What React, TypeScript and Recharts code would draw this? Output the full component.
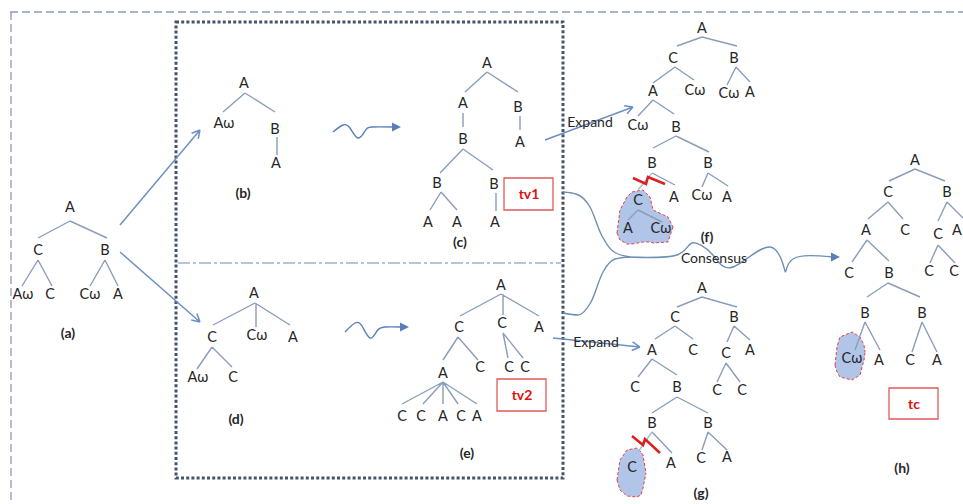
import React from 'react';
import { ComposedChart, XAxis, YAxis, Line, Scatter, Area, ReferenceLine, ReferenceArea } from 'recharts';

type Seg = [number, number, number, number];
type Node = [number, number, string];

const W = 963;
const H = 504;

// ---- tree nodes (x, y, label) ----
const treeANodes: Node[] = [[70, 207, 'A'], [38, 250, 'C'], [105, 250, 'B'], [23, 294, 'Aω'], [50, 294, 'C'], [90, 294, 'Cω'], [118, 294, 'A']];
const treeBNodes: Node[] = [[244, 83, 'A'], [224, 123, 'Aω'], [275, 129, 'B'], [276, 163, 'A']];
const treeCNodes: Node[] = [[487, 63, 'A'], [463, 103, 'A'], [518, 107, 'B'], [463, 139, 'B'], [520, 142, 'A'], [437, 183, 'B'], [494, 184, 'B'], [428, 222, 'A'], [457, 222, 'A'], [495, 222, 'A']];
const treeDNodes: Node[] = [[254, 293, 'A'], [212, 337, 'C'], [257, 335, 'Cω'], [293, 337, 'A'], [198, 377, 'Aω'], [233, 377, 'C']];
const treeENodes: Node[] = [[501, 285, 'A'], [459, 327, 'C'], [502, 323, 'C'], [539, 327, 'A'], [443, 373, 'A'], [480, 367, 'C'], [509, 367, 'C'], [525, 367, 'C'], [402, 416, 'C'], [421, 416, 'C'], [443, 416, 'A'], [461, 416, 'C'], [477, 416, 'A']];
const treeFNodes: Node[] = [[702, 28, 'A'], [673, 58, 'C'], [734, 58, 'B'], [653, 91, 'A'], [695, 90, 'Cω'], [729, 93, 'Cω'], [750, 92, 'A'], [638, 125, 'Cω'], [676, 127, 'B'], [652, 163, 'B'], [708, 163, 'B'], [638, 200, 'C'], [674, 197, 'A'], [702, 195, 'Cω'], [727, 197, 'A'], [628, 228, 'A'], [661, 228, 'Cω']];
const treeGNodes: Node[] = [[702, 288, 'A'], [675, 317, 'C'], [734, 317, 'B'], [652, 350, 'A'], [693, 350, 'C'], [726, 353, 'C'], [750, 350, 'A'], [635, 387, 'C'], [677, 387, 'B'], [717, 390, 'C'], [742, 390, 'C'], [652, 423, 'B'], [708, 423, 'B'], [632, 467, 'C'], [671, 463, 'A'], [701, 458, 'C'], [727, 457, 'A']];
const treeHNodes: Node[] = [[915, 160, 'A'], [888, 192, 'C'], [947, 192, 'B'], [866, 230, 'A'], [905, 230, 'C'], [938, 234, 'C'], [957, 230, 'A'], [849, 273, 'C'], [889, 273, 'B'], [929, 271, 'C'], [954, 271, 'C'], [865, 313, 'B'], [922, 313, 'B'], [852, 358, 'Cω'], [879, 360, 'A'], [910, 360, 'C'], [937, 360, 'A']];

// ---- tree edges (x1, y1, x2, y2) ----
const treeAEdges: Seg[] = [[70, 221, 38, 238], [70, 221, 107, 238], [38, 260, 22, 286], [38, 260, 52, 286], [105, 260, 90, 286], [105, 260, 118, 286]];
const treeBEdges: Seg[] = [[245, 93, 223, 112], [245, 93, 275, 112], [277, 137, 277, 155]];
const treeCEdges: Seg[] = [[487, 72, 465, 92], [487, 72, 518, 92], [463, 113, 463, 127], [520, 116, 520, 130], [463, 149, 440, 173], [463, 149, 493, 170], [441, 192, 430, 210], [441, 192, 457, 210], [496, 193, 496, 211]];
const treeDEdges: Seg[] = [[255, 303, 213, 325], [256, 303, 256, 327], [255, 303, 290, 325], [212, 347, 197, 369], [212, 347, 232, 367]];
const treeEEdges: Seg[] = [[501, 294, 460, 316], [503, 294, 503, 315], [501, 294, 539, 316], [458, 337, 443, 360], [458, 337, 478, 360], [503, 333, 508, 358], [503, 333, 523, 358], [443, 382, 402, 404], [443, 382, 423, 404], [443, 382, 443, 404], [443, 382, 458, 404], [443, 382, 477, 404]];
const treeFEdges: Seg[] = [[702, 37, 677, 46], [702, 37, 737, 46], [675, 67, 653, 83], [675, 67, 694, 80], [736, 67, 727, 85], [736, 67, 750, 82], [653, 100, 638, 116], [653, 100, 674, 114], [676, 136, 653, 148], [676, 136, 709, 152], [652, 173, 675, 185], [708, 173, 702, 187], [708, 173, 728, 186], [638, 210, 628, 220], [638, 210, 662, 222]];
const treeGEdges: Seg[] = [[702, 297, 677, 307], [702, 297, 737, 307], [675, 326, 655, 339], [675, 326, 693, 339], [734, 326, 727, 342], [734, 326, 750, 340], [652, 359, 638, 377], [652, 359, 677, 375], [726, 363, 717, 382], [726, 363, 740, 382], [677, 397, 652, 413], [677, 397, 708, 413], [652, 432, 672, 453], [708, 432, 702, 450], [708, 432, 727, 450]];
const treeHEdges: Seg[] = [[915, 169, 889, 181], [915, 169, 945, 181], [888, 202, 868, 219], [888, 202, 903, 219], [947, 202, 938, 221], [947, 202, 963, 218], [867, 240, 852, 262], [867, 240, 889, 261], [938, 245, 930, 263], [938, 245, 955, 263], [888, 283, 867, 297], [888, 283, 920, 297], [865, 322, 855, 350], [865, 322, 880, 350], [922, 322, 912, 352], [922, 322, 937, 352]];
const cutEdges: Seg[] = [[652, 173, 638, 190], [652, 432, 638, 452]];

// ---- red "cut" bolts ----
const boltF = [[633, 178], [646, 184], [648, 177], [665, 184]];
const boltG = [[632, 436], [643, 445], [645, 439], [660, 453]];

// ---- shaded sub-tree hulls: x, top, bottom ----
const hullF = [[617, 233, 233], [620, 210, 240], [627, 197, 244], [632, 192, 244], [643, 190, 242], [650, 197, 242], [653, 210, 243], [668, 217, 242], [673, 227, 227]];
const hullG = [[617, 480, 480], [620, 460, 490], [627, 450, 496], [637, 448, 497], [641, 452, 495], [643, 455, 488], [646, 473, 473]];
const hullH = [[835, 365, 365], [837, 347, 372], [840, 337, 377], [852, 332, 380], [860, 337, 375], [864, 345, 360], [865, 352, 352]];

// ---- arrows ----
const straightArrows: Seg[] = [[120, 225, 200, 130], [120, 252, 200, 322], [545, 140, 633, 107], [553, 338, 640, 347]];
const waveBC = [[333, 132], [343, 125], [350, 128], [358, 138], [365, 131], [372, 127], [394, 127]];
const waveDE = [[345, 332], [355, 323], [362, 326], [370, 338], [377, 331], [385, 327], [402, 327]];
const consensusTop = [[563, 192], [576, 194], [590, 207], [602, 236], [614, 252], [630, 257]];
const consensusBottom = [[563, 313], [578, 315], [591, 302], [603, 272], [615, 259], [630, 257]];
const consensusWave = [[627, 257], [677, 255], [692, 243], [712, 254], [733, 267], [770, 247], [785, 271], [793, 259], [833, 257]];
const arrowTips = [[398, 127], [406, 327], [837, 257]];

// ---- texts ----
const captions: Node[] = [[68, 333, '(a)'], [243, 193, '(b)'], [460, 242, '(c)'], [236, 419, '(d)'], [467, 453, '(e)'], [707, 237, '(f)'], [701, 493, '(g)'], [902, 468, '(h)']];
const tags: Node[] = [[529, 194, 'tv1'], [522, 395, 'tv2'], [914, 404, 'tc']];
const tagBoxes: Seg[] = [[504, 178, 553, 210], [497, 379, 546, 411], [889, 388, 938, 419]];
const words: Node[] = [[590, 122, 'Expand'], [596, 342, 'Expand'], [714, 258, 'Consensus']];

const FONT = 'Lato, "Open Sans", sans-serif';
const EDGE = '#8a9dba';

function segData(segs: Seg[]) {
  const out: { x: number; y: number | null }[] = [];
  segs.forEach(([x1, y1, x2, y2]) => {
    out.push({ x: x1, y: y1 }, { x: x2, y: y2 }, { x: x2, y: null });
  });
  return out;
}
function heads(segs: Seg[], len = 9, spread = 0.5): Seg[] {
  const out: Seg[] = [];
  segs.forEach(([x1, y1, x2, y2]) => {
    const a = Math.atan2(y2 - y1, x2 - x1);
    out.push([x2, y2, x2 - len * Math.cos(a - spread), y2 - len * Math.sin(a - spread)]);
    out.push([x2, y2, x2 - len * Math.cos(a + spread), y2 - len * Math.sin(a + spread)]);
  });
  return out;
}
const pts = (p: number[][]) => p.map(([x, y]) => ({ x, y }));
const nodeData = (n: Node[]) => n.map(([x, y, t]) => ({ x, y, t }));
const hullData = (h: number[][]) => h.map(([x, a, b]) => ({ x, r: [a, b] }));

const textShape = (size: number, weight: string, fill: string, dy: number) => (props: any) => (
  <text x={props.cx} y={props.cy + dy} textAnchor="middle" fontSize={size} fontWeight={weight} fill={fill} fontFamily={FONT}>
    {props.payload.t}
  </text>
);
const triShape = (props: any) => (
  <polygon points={`${props.cx + 3},${props.cy} ${props.cx - 6},${props.cy - 4.5} ${props.cx - 6},${props.cy + 4.5}`} fill="#5a7fb8" />
);

const allNodes = [...treeANodes, ...treeBNodes, ...treeCNodes, ...treeDNodes, ...treeENodes, ...treeFNodes, ...treeGNodes, ...treeHNodes];
const allEdges = [...treeAEdges, ...treeBEdges, ...treeCEdges, ...treeDEdges, ...treeEEdges, ...treeFEdges, ...treeGEdges, ...treeHEdges];

export default function App() {
  return (
    <div style={{ position: 'absolute', left: 0, top: 0, width: W, height: H, background: '#fff' }}>
      <ComposedChart width={W} height={H} margin={{ top: 0, right: 0, bottom: 0, left: 0 }}>
        <XAxis type="number" dataKey="x" domain={[0, W]} hide allowDataOverflow />
        <YAxis type="number" domain={[0, H]} reversed hide allowDataOverflow />

        <ReferenceLine segment={[{ x: 10, y: 12 }, { x: W, y: 12 }]} stroke="#8a9cb6" strokeWidth={1.3} strokeDasharray="8 4" ifOverflow="visible" />
        <ReferenceLine segment={[{ x: 11, y: 12 }, { x: 11, y: H }]} stroke="#8a9cb6" strokeWidth={1.3} strokeDasharray="8 4" ifOverflow="visible" />
        <ReferenceArea x1={176} x2={563} y1={22} y2={478} fill="none" stroke="#44546a" strokeWidth={3} strokeDasharray="3 2.2" ifOverflow="visible" />
        <ReferenceLine segment={[{ x: 178, y: 263 }, { x: 561, y: 263 }]} stroke="#9fb2ca" strokeWidth={1.4} strokeDasharray="12 3 3 3" ifOverflow="visible" />

        <Area data={hullData(hullF)} dataKey="r" type="linear" fill="#a9bfe6" fillOpacity={0.9} stroke="#e0404a" strokeWidth={1} strokeDasharray="3 2" isAnimationActive={false} dot={false} activeDot={false} />
        <Area data={hullData(hullG)} dataKey="r" type="linear" fill="#a9bfe6" fillOpacity={0.9} stroke="#e0404a" strokeWidth={1} strokeDasharray="3 2" isAnimationActive={false} dot={false} activeDot={false} />
        <Area data={hullData(hullH)} dataKey="r" type="linear" fill="#a9bfe6" fillOpacity={0.9} stroke="#e0404a" strokeWidth={1} strokeDasharray="3 2" isAnimationActive={false} dot={false} activeDot={false} />

        <Line data={segData(allEdges)} dataKey="y" stroke={EDGE} strokeWidth={1.4} dot={false} activeDot={false} isAnimationActive={false} type="linear" />
        <Line data={segData(cutEdges)} dataKey="y" stroke="#9cc8c8" strokeWidth={1.4} dot={false} activeDot={false} isAnimationActive={false} type="linear" />
        <Line data={segData([...straightArrows, ...heads(straightArrows)])} dataKey="y" stroke="#6d90c4" strokeWidth={1.5} dot={false} activeDot={false} isAnimationActive={false} type="linear" />

        <Line data={pts(waveBC)} dataKey="y" stroke="#5a7fb8" strokeWidth={1.4} dot={false} activeDot={false} isAnimationActive={false} type="natural" />
        <Line data={pts(waveDE)} dataKey="y" stroke="#5a7fb8" strokeWidth={1.4} dot={false} activeDot={false} isAnimationActive={false} type="natural" />
        <Line data={pts(consensusTop)} dataKey="y" stroke="#6f8fb8" strokeWidth={1.4} dot={false} activeDot={false} isAnimationActive={false} type="monotone" />
        <Line data={pts(consensusBottom)} dataKey="y" stroke="#6f8fb8" strokeWidth={1.4} dot={false} activeDot={false} isAnimationActive={false} type="monotone" />
        <Line data={pts(consensusWave)} dataKey="y" stroke="#6f8fb8" strokeWidth={1.4} dot={false} activeDot={false} isAnimationActive={false} type="natural" />

        <Line data={pts(boltF)} dataKey="y" stroke="#e02020" strokeWidth={2.6} dot={false} activeDot={false} isAnimationActive={false} type="linear" />
        <Line data={pts(boltG)} dataKey="y" stroke="#e02020" strokeWidth={2.6} dot={false} activeDot={false} isAnimationActive={false} type="linear" />

        {tagBoxes.map(([x1, y1, x2, y2], i) => (
          <ReferenceArea key={i} x1={x1} x2={x2} y1={y1} y2={y2} fill="#fff" fillOpacity={1} stroke="#e05a5a" strokeWidth={1.3} ifOverflow="visible" />
        ))}

        <Scatter data={pts(arrowTips)} dataKey="y" shape={triShape} isAnimationActive={false} />
        <Scatter data={nodeData(allNodes)} dataKey="y" shape={textShape(14.5, 'normal', '#262626', 5)} isAnimationActive={false} />
        <Scatter data={nodeData(words)} dataKey="y" shape={textShape(14, 'normal', '#262626', 5)} isAnimationActive={false} />
        <Scatter data={nodeData(captions)} dataKey="y" shape={textShape(14, 'bold', '#262626', 5)} isAnimationActive={false} />
        <Scatter data={nodeData(tags)} dataKey="y" shape={textShape(14, 'bold', '#e01010', 5)} isAnimationActive={false} />
      </ComposedChart>
    </div>
  );
}
